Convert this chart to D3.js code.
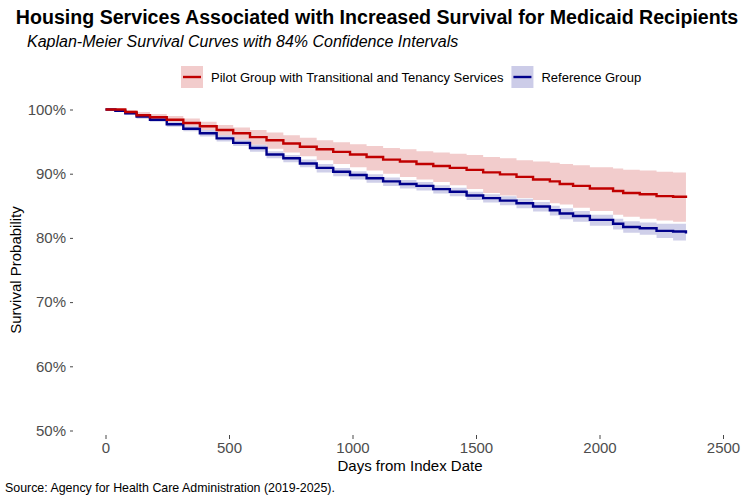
<!DOCTYPE html>
<html>
<head>
<meta charset="utf-8">
<script src="https://cdn.jsdelivr.net/npm/d3@7"></script>
<style>
  body { margin: 0; background: #fff; }
  text { font-family: "Liberation Sans", Arial, sans-serif; }
</style>
</head>
<body>
<svg id="chart"></svg>
<script>
const days = [0, 40, 80, 126, 180, 248, 315, 382, 450, 517, 585, 652, 720, 787, 855, 922, 990, 1057, 1124, 1192,
  1259, 1327, 1394, 1462, 1529, 1597, 1664, 1731, 1799, 1839, 1893, 1961, 2055, 2096, 2163, 2231, 2298, 2350];

const pilotSurv = [100, 100, 99.6, 99.1, 98.8, 98.4, 97.9, 97.4, 96.8, 96.3, 95.7, 95.2, 94.7, 94.2, 93.8, 93.4, 93.0, 92.6, 92.2, 91.9,
  91.5, 91.2, 90.9, 90.6, 90.2, 89.9, 89.5, 89.1, 88.8, 88.4, 88.1, 87.7, 87.3, 87.0, 86.8, 86.5, 86.4, 86.2];
const pilotUpper = [100, 100, 99.9, 99.6, 99.3, 99.0, 98.6, 98.1, 97.6, 97.2, 96.8, 96.4, 96.0, 95.6, 95.2, 94.9, 94.6, 94.3, 94.0, 93.8,
  93.5, 93.3, 93.1, 92.9, 92.6, 92.4, 92.1, 91.9, 91.7, 91.5, 91.3, 91.0, 90.8, 90.6, 90.5, 90.3, 90.2, 90.1];
const pilotLower = [100, 100, 99.2, 98.6, 98.2, 97.7, 97.1, 96.6, 95.9, 95.3, 94.5, 93.9, 93.3, 92.7, 92.1, 91.5, 91.0, 90.5, 90.0, 89.5,
  89.1, 88.7, 88.2, 87.6, 87.0, 86.6, 86.2, 85.9, 85.4, 85.2, 84.7, 84.2, 83.6, 83.3, 83.0, 82.7, 82.5, 82.3];

const refSurv = [100, 99.8, 99.4, 98.9, 98.4, 97.7, 97.0, 96.3, 95.5, 94.8, 94.0, 93.0, 92.4, 91.6, 90.9, 90.3, 89.8, 89.3, 88.8, 88.4,
  88.1, 87.6, 87.2, 86.6, 86.2, 85.8, 85.4, 84.9, 84.3, 83.8, 83.4, 82.8, 82.2, 81.7, 81.5, 81.1, 81.0, 80.7];
const refUpper = [100, 99.9, 99.6, 99.2, 98.7, 98.1, 97.4, 96.8, 96.0, 95.3, 94.5, 93.5, 92.9, 92.2, 91.5, 90.9, 90.4, 89.9, 89.4, 89.0,
  88.7, 88.2, 87.8, 87.2, 86.8, 86.5, 86.1, 85.6, 85.0, 84.6, 84.2, 83.6, 83.0, 82.6, 82.4, 82.2, 82.2, 82.2];
const refLower = [100, 99.7, 99.2, 98.6, 98.1, 97.3, 96.6, 95.8, 95.0, 94.3, 93.4, 92.4, 91.8, 91.0, 90.2, 89.6, 89.1, 88.6, 88.1, 87.7,
  87.4, 86.9, 86.5, 85.9, 85.5, 85.1, 84.6, 84.1, 83.5, 82.9, 82.5, 81.9, 81.3, 80.8, 80.5, 80.0, 79.6, 79.3];

const xTicks = [0, 500, 1000, 1500, 2000, 2500];
const yTicks = [50, 60, 70, 80, 90, 100];

const seriesNames = ["Pilot Group with Transitional and Tenancy Services", "Reference Group"];
const lineColors = ["#C00000", "#00008B"];
const bandColors = ["#F2CCCC", "#CCCCE8"];

const width = 754, height = 500;
const svg = d3.select("#chart").attr("width", width).attr("height", height);

const x = d3.scaleLinear().domain([0, 2500]).range([105.5, 723]);
const y = d3.scaleLinear().domain([50, 100]).range([430.5, 109.5]);

const series = [
  { surv: pilotSurv, lo: pilotLower, hi: pilotUpper },
  { surv: refSurv, lo: refLower, hi: refUpper }
].map(s => days.map((d, i) => ({ day: d, s: s.surv[i], lo: s.lo[i], hi: s.hi[i] })));

const area = d3.area().curve(d3.curveStepAfter)
  .x(d => x(d.day)).y0(d => y(d.lo)).y1(d => y(d.hi));
const line = d3.line().curve(d3.curveStepAfter)
  .x(d => x(d.day)).y(d => y(d.s));

// bands first, then lines
series.forEach((s, i) => {
  svg.append("path").datum(s).attr("d", area).attr("fill", bandColors[i]).attr("opacity", i === 0 ? 1 : 0.95);
});
series.slice().reverse().forEach((s, j) => {
  const i = series.length - 1 - j;
  svg.append("path").datum(s).attr("d", line)
    .attr("fill", "none").attr("stroke", lineColors[i]).attr("stroke-width", 2.4);
});

// axes (ticks only, no axis line)
const xAxis = svg.append("g").attr("transform", "translate(0,435)")
  .call(d3.axisBottom(x).tickValues(xTicks).tickSize(4).tickPadding(3).tickFormat(d3.format("d")));
const yAxis = svg.append("g").attr("transform", "translate(73,0)")
  .call(d3.axisLeft(y).tickValues(yTicks).tickSize(3).tickPadding(4).tickFormat(d => d + "%"));
[xAxis, yAxis].forEach(g => {
  g.select(".domain").remove();
  g.selectAll(".tick line").attr("stroke", "#333").attr("stroke-width", 0.9);
  g.selectAll(".tick text").attr("fill", "#4D4D4D").style("font-size", "15px")
    .style("font-family", "'Liberation Sans', Arial, sans-serif");
});

// titles
svg.append("text").attr("x", 377).attr("y", 24).attr("text-anchor", "middle")
  .style("font-size", "19.6px").style("font-weight", "bold").attr("fill", "#000")
  .text("Housing Services Associated with Increased Survival for Medicaid Recipients");
svg.append("text").attr("x", 27).attr("y", 47)
  .style("font-size", "16px").style("font-style", "italic").attr("fill", "#000")
  .text("Kaplan-Meier Survival Curves with 84% Confidence Intervals");

svg.append("text").attr("x", 410).attr("y", 471).attr("text-anchor", "middle")
  .style("font-size", "15px").attr("fill", "#000").text("Days from Index Date");
svg.append("text").attr("transform", "translate(21,270) rotate(-90)").attr("text-anchor", "middle")
  .style("font-size", "15px").attr("fill", "#000").text("Survival Probability");

svg.append("text").attr("x", 5).attr("y", 492)
  .style("font-size", "12.4px").attr("fill", "#000")
  .text("Source: Agency for Health Care Administration (2019-2025).");

// legend
const legend = svg.append("g").attr("transform", "translate(181,66)");
let lx = 0;
seriesNames.forEach((name, i) => {
  const g = legend.append("g").attr("transform", `translate(${lx},0)`);
  g.append("rect").attr("width", 22).attr("height", 22).attr("fill", bandColors[i]);
  g.append("line").attr("x1", 2).attr("x2", 20).attr("y1", 11).attr("y2", 11)
    .attr("stroke", lineColors[i]).attr("stroke-width", 2.4);
  const t = g.append("text").attr("x", 30).attr("y", 16).style("font-size", "13px").attr("fill", "#000").text(name);
  lx += 30 + t.node().getComputedTextLength() + 8;
});
</script>
</body>
</html>
